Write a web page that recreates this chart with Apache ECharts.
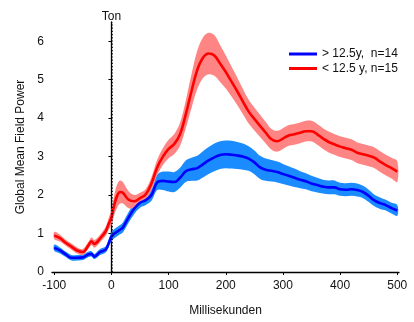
<!DOCTYPE html>
<html>
<head>
<meta charset="utf-8">
<script src="https://cdn.jsdelivr.net/npm/echarts@6/dist/echarts.min.js"></script>
<style>
  html, body { margin: 0; padding: 0; background: #fff; }
  #main { width: 414px; height: 322px; }
</style>
</head>
<body>
<div id="main"></div>
<script>
// time points (ms)
const times = [-100, -90, -80, -70, -60, -50, -40, -35, -30, -20, -10, -5, 0, 5, 10, 15, 20,
  30, 40, 50, 60, 70, 80, 90, 100, 110, 120, 130, 140, 150, 160, 170, 180, 190, 200,
  210, 220, 230, 240, 250, 260, 270, 280, 290, 300, 310, 320, 330, 340, 350, 360,
  370, 380, 390, 400, 410, 420, 430, 440, 450, 460, 470, 480, 490, 500];

// > 12.5y, n=14
const blueMean = [0.63, 0.56, 0.46, 0.37, 0.37, 0.38, 0.46, 0.47, 0.40, 0.52, 0.59, 0.74, 0.92, 1.00, 1.05, 1.10, 1.16,
  1.42, 1.65, 1.80, 1.87, 2.00, 2.33, 2.37, 2.35, 2.34, 2.45, 2.62, 2.67, 2.70, 2.80, 2.90, 2.98, 3.04, 3.06,
  3.05, 3.03, 3.00, 2.95, 2.85, 2.72, 2.66, 2.63, 2.60, 2.55, 2.50, 2.45, 2.40, 2.36, 2.30, 2.26,
  2.22, 2.20, 2.20, 2.15, 2.14, 2.15, 2.13, 2.08, 1.98, 1.86, 1.79, 1.74, 1.66, 1.60];
const blueErr = [0.08, 0.08, 0.07, 0.07, 0.07, 0.07, 0.07, 0.07, 0.07, 0.08, 0.08, 0.10, 0.12, 0.12, 0.12, 0.12, 0.13,
  0.14, 0.14, 0.13, 0.13, 0.15, 0.20, 0.24, 0.26, 0.26, 0.26, 0.28, 0.30, 0.32, 0.34, 0.35, 0.36, 0.36, 0.36,
  0.36, 0.35, 0.34, 0.32, 0.31, 0.30, 0.29, 0.28, 0.27, 0.26, 0.25, 0.24, 0.22, 0.21, 0.20, 0.19,
  0.18, 0.18, 0.18, 0.17, 0.17, 0.17, 0.17, 0.16, 0.16, 0.15, 0.15, 0.14, 0.14, 0.14];

// < 12.5 y, n=15
const redMean = [0.95, 0.88, 0.76, 0.66, 0.56, 0.52, 0.70, 0.80, 0.73, 0.87, 1.06, 1.25, 1.42, 1.75, 1.98, 2.08, 2.06,
  1.88, 1.84, 1.92, 2.02, 2.30, 2.72, 3.00, 3.20, 3.33, 3.58, 4.10, 4.70, 5.25, 5.57, 5.68, 5.63, 5.42, 5.20,
  4.95, 4.70, 4.43, 4.17, 3.98, 3.80, 3.62, 3.45, 3.40, 3.47, 3.55, 3.58, 3.62, 3.66, 3.66, 3.58,
  3.47, 3.38, 3.32, 3.26, 3.22, 3.18, 3.10, 3.06, 3.02, 2.97, 2.87, 2.78, 2.70, 2.61];
const redErr = [0.09, 0.09, 0.08, 0.08, 0.08, 0.08, 0.09, 0.10, 0.10, 0.10, 0.12, 0.15, 0.20, 0.26, 0.30, 0.30, 0.28,
  0.22, 0.16, 0.14, 0.14, 0.17, 0.20, 0.22, 0.24, 0.26, 0.30, 0.36, 0.44, 0.50, 0.53, 0.54, 0.53, 0.48, 0.43,
  0.39, 0.36, 0.33, 0.31, 0.30, 0.29, 0.28, 0.27, 0.27, 0.27, 0.27, 0.27, 0.27, 0.27, 0.27, 0.27,
  0.27, 0.27, 0.27, 0.27, 0.27, 0.27, 0.27, 0.27, 0.27, 0.27, 0.27, 0.27, 0.27, 0.27];

const xTicks = [-100, 0, 100, 200, 300, 400, 500];
const yTicks = [0, 1, 2, 3, 4, 5, 6];
const names = ['> 12.5y,  n=14', '< 12.5 y, n=15'];

const pairs = (vals) => times.map((t, i) => [t, vals[i]]);

// shaded band (mean +/- err) as one smoothed polygon, positioned through the axes
function band(m, e, color) {
  return {
    type: 'custom', silent: true,
    data: times.map((t, i) => [t, m[i] - e[i], m[i] + e[i]]),
    encode: { x: 0, y: [1, 2] },
    renderItem: function (params, api) {
      if (params.dataIndex !== 0) return null;
      const top = times.map((t, i) => api.coord([t, m[i] + e[i]]));
      const bot = times.map((t, i) => api.coord([t, m[i] - e[i]])).reverse();
      return {
        type: 'polygon',
        shape: { points: top.concat(bot), smooth: 0.35 },
        style: { fill: color },
        clipPath: { type: 'rect', shape: { x: params.coordSys.x, y: params.coordSys.y,
          width: params.coordSys.width, height: params.coordSys.height } }
      };
    }
  };
}

const font = 'Liberation Sans, Arial, sans-serif';
const chart = echarts.init(document.getElementById('main'));
chart.setOption({
  animation: false,
  textStyle: { fontFamily: font },
  grid: { left: 52, right: 15, top: 22, bottom: 48.5 },
  legend: {
    data: names,
    orient: 'vertical',
    left: 289, top: 48, padding: 0,
    itemWidth: 28, itemHeight: 3, itemGap: 2.5,
    icon: 'rect',
    textStyle: { fontSize: 12, color: '#111', fontFamily: font }
  },
  xAxis: {
    type: 'value', min: -104, max: 503,
    name: 'Millisekunden', nameLocation: 'middle', nameGap: 33,
    nameTextStyle: { fontSize: 12, color: '#111' },
    axisLine: { lineStyle: { color: '#000', width: 1.3 } },
    axisTick: { show: true, length: 3, customValues: xTicks, lineStyle: { color: '#000' } },
    axisLabel: { customValues: xTicks, fontSize: 12, color: '#111', margin: 8 },
    splitLine: { show: false }
  },
  yAxis: {
    type: 'value', min: 0, max: 6.5,
    name: 'Global Mean Field Power', nameLocation: 'middle', nameGap: 23, nameRotate: 90,
    nameTextStyle: { fontSize: 12, color: '#111' },
    axisLine: { show: true, lineStyle: { color: '#000', width: 1.3 } },
    axisTick: { show: true, length: 3, customValues: yTicks, lineStyle: { color: '#000' } },
    axisLabel: { customValues: yTicks, fontSize: 12, color: '#111', margin: 8 },
    splitLine: { show: false }
  },
  series: [
    band(blueMean, blueErr, '#1a8cff'),
    band(redMean, redErr, '#ff8585'),
    { name: names[0], type: 'line', data: pairs(blueMean), smooth: 0.4, symbol: 'none',
      color: '#0000ff', lineStyle: { color: '#0000ff', width: 2.6 } },
    { name: names[1], type: 'line', data: pairs(redMean), smooth: 0.4, symbol: 'none',
      color: '#ff0000', lineStyle: { color: '#ff0000', width: 2.6 },
      markLine: {
        silent: true, symbol: 'none',
        lineStyle: { color: '#000', type: [1.2, 2], width: 1.6 },
        label: { show: true, position: 'end', formatter: 'Ton', color: '#111', fontSize: 12, distance: -1 },
        data: [{ xAxis: 0 }]
      } }
  ]
});
</script>
</body>
</html>
